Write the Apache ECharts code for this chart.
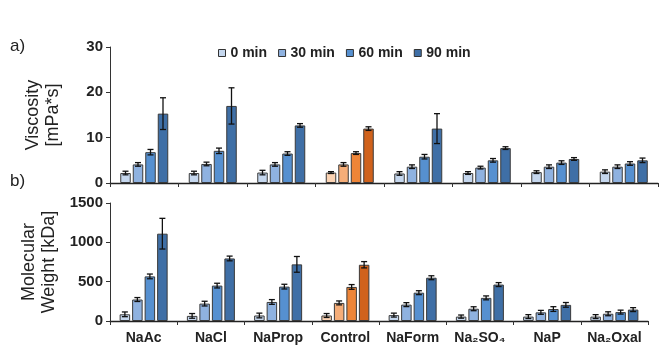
<!DOCTYPE html>
<html>
<head>
<meta charset="utf-8">
<script src="https://cdn.jsdelivr.net/npm/echarts@6/dist/echarts.min.js"></script>
<style>
  html, body { margin: 0; padding: 0; background: #fff; }
  #chart { width: 659px; height: 345px; }
</style>
</head>
<body>
<div id="chart"></div>
<script>
// categories + legend names
var salts = ['NaAc', 'NaCl', 'NaProp', 'Control', 'NaForm', 'Na\u2082SO\u2084', 'NaP', 'Na\u2082Oxal'];
var times = ['0 min', '30 min', '60 min', '90 min'];

// a) viscosity [mPa*s]
var visc0  = [2.2, 2.2, 2.3, 2.3, 2.1, 2.2, 2.4, 2.5];
var visc30 = [4.1, 4.2, 4.1, 4.1, 3.6, 3.4, 3.6, 3.6];
var visc60 = [6.8, 7.1, 6.5, 6.6, 5.8, 5.0, 4.5, 4.3];
var visc90 = [15.3, 17.0, 12.7, 12.0, 12.0, 7.7, 5.3, 5.0];
var viscErr0  = [0.4, 0.4, 0.5, 0.2, 0.4, 0.3, 0.3, 0.4];
var viscErr30 = [0.4, 0.4, 0.4, 0.4, 0.4, 0.3, 0.4, 0.4];
var viscErr60 = [0.6, 0.6, 0.4, 0.3, 0.5, 0.4, 0.4, 0.4];
var viscErr90 = [3.5, 4.0, 0.4, 0.4, 3.3, 0.3, 0.3, 0.5];

// b) molecular weight [kDa]
var mw0  = [85, 65, 70, 70, 75, 56, 56, 56];
var mw30 = [273, 221, 242, 230, 208, 156, 110, 92];
var mw60 = [567, 450, 437, 433, 360, 294, 152, 113];
var mw90 = [1110, 795, 720, 715, 550, 463, 205, 145];
var mwErr0  = [30, 30, 30, 25, 25, 20, 25, 25];
var mwErr30 = [25, 30, 30, 25, 25, 25, 25, 25];
var mwErr60 = [30, 30, 30, 30, 25, 25, 30, 25];
var mwErr90 = [195, 30, 100, 40, 25, 25, 30, 25];

var blues = ['#c5d7ee', '#8fb2e0', '#5690d0', '#3f6fa6'];
var oranges = ['#fbd3b3', '#f5ad78', '#ee8538', '#d0621c'];
var controlIdx = 3;

var barW = 10.5, gapPx = 2;
var font = '"Liberation Sans", Arial, sans-serif';

var chart = echarts.init(document.getElementById('chart'));

function barSeries(name, vals, k, axisIdx) {
    return {
        name: name,
        type: 'bar',
        xAxisIndex: axisIdx,
        yAxisIndex: axisIdx,
        barWidth: barW,
        barGap: (gapPx / barW * 100) + '%',
        itemStyle: { color: blues[k], borderColor: '#3a3a3a', borderWidth: 1 },
        emphasis: { disabled: true },
        data: vals.map(function (v, i) {
            if (i === controlIdx) return { value: v, itemStyle: { color: oranges[k] } };
            return v;
        })
    };
}

function errRender(params, api) {
    var cat = api.value(0), v = api.value(1), e = api.value(2), s = api.value(3);
    var top = api.coord([cat, v + e]);
    var bot = api.coord([cat, v - e]);
    var x = top[0] + (s - 1.5) * (barW + gapPx);
    var cap = 3;
    var st = { stroke: '#111', lineWidth: 1.3 };
    return {
        type: 'group',
        children: [
            { type: 'line', shape: { x1: x, y1: top[1], x2: x, y2: bot[1] }, style: st },
            { type: 'line', shape: { x1: x - cap, y1: top[1], x2: x + cap, y2: top[1] }, style: st },
            { type: 'line', shape: { x1: x - cap, y1: bot[1], x2: x + cap, y2: bot[1] }, style: st }
        ]
    };
}

function errSeries(valsList, errList, axisIdx) {
    var data = [];
    valsList.forEach(function (vals, s) {
        vals.forEach(function (v, i) { data.push([i, v, errList[s][i], s]); });
    });
    return {
        type: 'custom',
        xAxisIndex: axisIdx,
        yAxisIndex: axisIdx,
        renderItem: errRender,
        encode: { x: 0, y: 1 },
        z: 10,
        silent: true,
        data: data
    };
}

var yLabel = { fontFamily: font, fontWeight: 'bold', fontSize: 15, color: '#222', margin: 7,
               formatter: function (v) { return String(v); } };
var yLine = { show: true, lineStyle: { color: '#333', width: 1 } };
var yTick = { show: true, length: 4, lineStyle: { color: '#333' } };
var nameStyle = { fontFamily: font, fontSize: 18, color: '#222', lineHeight: 20 };

chart.setOption({
    animation: false,
    legend: {
        data: times,
        left: 213,
        top: 41,
        itemWidth: 7,
        itemHeight: 7,
        itemGap: 11,
        icon: 'rect',
        itemStyle: { borderColor: '#333', borderWidth: 1 },
        textStyle: { fontFamily: font, fontWeight: 'bold', fontSize: 14, color: '#222' }
    },
    graphic: [
        { type: 'text', left: 10, top: 38, style: { text: 'a)', font: '17px ' + font, fill: '#222' } },
        { type: 'text', left: 10, top: 173, style: { text: 'b)', font: '17px ' + font, fill: '#222' } }
    ],
    grid: [
        { left: 110, right: 1, top: 47, height: 136 },
        { left: 110, right: 11, top: 203, bottom: 24 }
    ],
    xAxis: [
        {
            type: 'category', gridIndex: 0, data: salts,
            axisLine: { lineStyle: { color: '#222', width: 1.3 } },
            axisTick: { show: true, length: 4, lineStyle: { color: '#333' } },
            axisLabel: { show: false }
        },
        {
            type: 'category', gridIndex: 1, data: salts,
            axisLine: { lineStyle: { color: '#222', width: 1.3 } },
            axisTick: { show: true, length: 4, lineStyle: { color: '#333' } },
            axisLabel: { interval: 0, fontFamily: font, fontWeight: 'bold', fontSize: 14, color: '#222', margin: 10 }
        }
    ],
    yAxis: [
        {
            type: 'value', gridIndex: 0, min: 0, max: 30, interval: 10,
            name: 'Viscosity\n[mPa*s]', nameLocation: 'middle', nameGap: 47, nameRotate: 90,
            nameTextStyle: nameStyle,
            axisLine: yLine, axisTick: yTick, axisLabel: yLabel, splitLine: { show: false }
        },
        {
            type: 'value', gridIndex: 1, min: 0, max: 1500, interval: 500,
            name: 'Molecular\nWeight [kDa]', nameLocation: 'middle', nameGap: 47, nameRotate: 90,
            nameTextStyle: nameStyle,
            axisLine: yLine, axisTick: yTick, axisLabel: yLabel, splitLine: { show: false }
        }
    ],
    series: [
        barSeries(times[0], visc0, 0, 0),
        barSeries(times[1], visc30, 1, 0),
        barSeries(times[2], visc60, 2, 0),
        barSeries(times[3], visc90, 3, 0),
        errSeries([visc0, visc30, visc60, visc90], [viscErr0, viscErr30, viscErr60, viscErr90], 0),
        barSeries(times[0], mw0, 0, 1),
        barSeries(times[1], mw30, 1, 1),
        barSeries(times[2], mw60, 2, 1),
        barSeries(times[3], mw90, 3, 1),
        errSeries([mw0, mw30, mw60, mw90], [mwErr0, mwErr30, mwErr60, mwErr90], 1)
    ]
});
</script>
</body>
</html>
